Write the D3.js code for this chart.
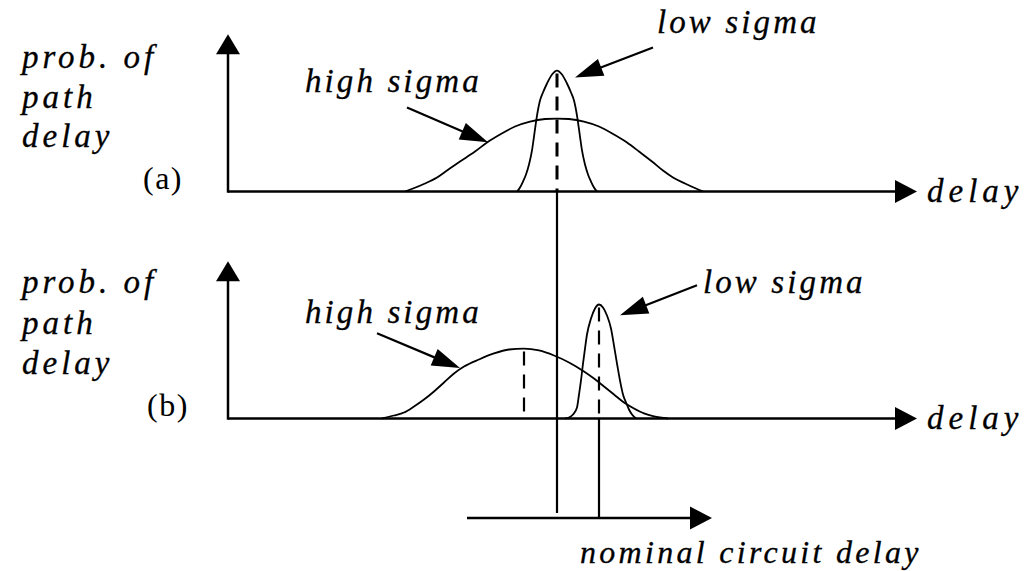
<!DOCTYPE html>
<html><head><meta charset="utf-8">
<script src="https://cdn.jsdelivr.net/npm/d3@7"></script>
<style>html,body{margin:0;padding:0;background:#fff;} svg{display:block;}</style>
</head><body>
<svg id="chart" width="1024" height="571"></svg>
<script>
// ---------- data (delay units, probability units) ----------
const topWide = [[17.7,0],[18.5,.025],[19.7,.067],[20.9,.117],[21.9,.175],[23.2,.25],[24.7,.333],[25.9,.408],[27.2,.475],[28.7,.542],[30.2,.583],[31.7,.604],[32.9,.608],
  [34.1,.604],[35.6,.583],[37.1,.542],[38.6,.475],[39.9,.408],[41.1,.333],[42.4,.25],[43.5,.175],[44.5,.117],[45.7,.067],[46.8,.025],[47.5,0]];
const topNarrow = [[28.9,0],[29.2,.033],[29.5,.083],[29.8,.142],[30.1,.225],[30.4,.342],[30.6,.458],[30.9,.633],[31.2,.758],[31.5,.825],[31.9,.9],[32.4,.975],[32.9,1.008],
  [33.4,.975],[33.9,.9],[34.3,.825],[34.6,.758],[34.9,.633],[35.2,.458],[35.4,.342],[35.7,.225],[36.0,.142],[36.3,.083],[36.6,.033],[36.9,0]];
const botWide = [[15.4,0],[16.6,.025],[17.6,.05],[18.6,.1],[19.6,.158],[20.6,.225],[21.6,.3],[22.6,.375],[23.6,.433],[25.1,.492],[26.6,.542],[28.1,.575],[29.6,.583],
  [31.1,.567],[32.6,.525],[34.1,.467],[35.6,.392],[36.6,.333],[37.6,.267],[38.6,.2],[39.6,.133],[40.6,.083],[41.6,.042],[42.6,.017],[44.0,0]];
const botNarrow = [[33.7,0],[34.1,.008],[34.5,.033],[34.9,.092],[35.1,.2],[35.3,.317],[35.5,.458],[35.7,.583],[35.9,.7],[36.3,.833],[36.7,.917],[37.1,.95],
  [37.5,.925],[37.9,.858],[38.3,.75],[38.6,.608],[38.9,.458],[39.2,.317],[39.5,.2],[39.8,.133],[40.1,.075],[40.4,.033],[40.8,0]];
// means marked with dashed lines: [delay, peak]
const topMeans = [[32.9, 1.008]];
const botMeans = [[29.6, .583], [37.1, .95]];
const panelLabels = ["(a)", "(b)"];
const yLabelLines = ["prob. of", "path", "delay"];
const xLabel = "delay";
const nominalLabel = "nominal circuit delay";
const sigmaLabels = ["high sigma", "low sigma"];
// annotation arrows [fromX, fromY, toX, toY] in data units
const topArrows = [[17.9,.70,26.0,.41],[42.5,1.20,34.7,.95]];
const botArrows = [[14.9,.71,23.2,.42],[46.9,1.11,39.2,.86]];
const topLabelPos = [[7.7,.83],[42.9,1.32]];
const botLabelPos = [[7.7,.80],[47.5,1.05]];
const nominalRange = [23.9, 48.4];
const nominalMarks = [32.9, 37.1];

// ---------- layout ----------
const svg = d3.select("#chart");
svg.append("rect").attr("width",1024).attr("height",571).attr("fill","#fff");
const x = d3.scaleLinear().domain([0, 68.9]).range([228, 917]);
const yTop = d3.scaleLinear().domain([0, 1.3]).range([191.5, 35.5]);
const yBot = d3.scaleLinear().domain([0, 1.3]).range([418.5, 262.5]);
const yMax = 1.31, xMax = 68.9;
const nomY = 518;
const font = "'Liberation Serif','Times New Roman',serif";
const ink = "#000";

function arrowHead(g, tx, ty, fx, fy, L, W) {
  const dx = tx - fx, dy = ty - fy, d = Math.hypot(dx, dy);
  const ux = dx/d, uy = dy/d, bx = tx - ux*L, by = ty - uy*L;
  g.append("path")
    .attr("d", `M${tx},${ty}L${bx - uy*W},${by + ux*W}L${bx + uy*W},${by - ux*W}Z`)
    .attr("fill", ink);
}

function panel(y, wide, narrow, means, arrows, labelPos, label, labelBaselines, labelLetterX, dashW) {
  const g = svg.append("g");
  // axes
  g.append("line").attr("x1", x(0)).attr("x2", x(xMax) - 18).attr("y1", y(0)).attr("y2", y(0))
    .attr("stroke", ink).attr("stroke-width", 2.5);
  arrowHead(g, x(xMax), y(0), x(0), y(0), 22, 11.5);
  g.append("line").attr("x1", x(0)).attr("x2", x(0)).attr("y1", y(0) + 1.2).attr("y2", y(yMax) + 16)
    .attr("stroke", ink).attr("stroke-width", 2.5);
  arrowHead(g, x(0), y(yMax), x(0), y(0), 20, 12);

  const line = d3.line().x(d => x(d[0])).y(d => y(d[1])).curve(d3.curveMonotoneX);
  [wide, narrow].forEach(c => g.append("path").attr("d", line(c)).attr("fill", "none")
    .attr("stroke", ink).attr("stroke-width", 1.8));
  means.forEach(m => g.append("line").attr("x1", x(m[0])).attr("x2", x(m[0]))
    .attr("y1", y(m[1]) + 3).attr("y2", y(0)).attr("stroke", ink)
    .attr("stroke-width", dashW).attr("stroke-dasharray", "14,9"));
  arrows.forEach(a => {
    const fx = x(a[0]), fy = y(a[1]), tx = x(a[2]), ty = y(a[3]);
    const dx = tx - fx, dy = ty - fy, d = Math.hypot(dx, dy);
    g.append("line").attr("x1", fx).attr("y1", fy).attr("x2", tx - dx/d*20).attr("y2", ty - dy/d*20)
      .attr("stroke", ink).attr("stroke-width", 2.2);
    arrowHead(g, tx, ty, fx, fy, 28, 9);
  });
  sigmaLabels.forEach((t, i) => g.append("text").attr("x", x(labelPos[i][0])).attr("y", y(labelPos[i][1]))
    .attr("font-family", font).attr("font-style", "italic").attr("font-size", 33)
    .attr("letter-spacing", 3.1).attr("fill", ink).attr("stroke", ink).attr("stroke-width", 0.3).text(t));
  // y-axis label
  yLabelLines.forEach((t, i) => g.append("text").attr("x", 22).attr("y", labelBaselines[i])
    .attr("font-family", font).attr("font-style", "italic").attr("font-size", 33)
    .attr("letter-spacing", 4).attr("fill", ink).attr("stroke", ink).attr("stroke-width", 0.3).text(t));
  g.append("text").attr("x", labelLetterX).attr("y", y(0) - 3)
    .attr("font-family", font).attr("font-size", 32).attr("letter-spacing", 1.5).attr("fill", ink).text(label);
  g.append("text").attr("x", x(xMax) + 10).attr("y", y(0) + 10)
    .attr("font-family", font).attr("font-style", "italic").attr("font-size", 33)
    .attr("letter-spacing", 5).attr("fill", ink).attr("stroke", ink).attr("stroke-width", 0.3).text(xLabel);
}

panel(yTop, topWide, topNarrow, topMeans, topArrows, topLabelPos, panelLabels[0], [68,108,147], 143, 3);
panel(yBot, botWide, botNarrow, botMeans, botArrows, botLabelPos, panelLabels[1], [293,334,374], 147, 2.2);

// projections onto the nominal-delay axis
svg.append("line").attr("x1", x(nominalMarks[0])).attr("x2", x(nominalMarks[0]))
  .attr("y1", yTop(0)).attr("y2", nomY - 5).attr("stroke", ink).attr("stroke-width", 2.2);
svg.append("line").attr("x1", x(nominalMarks[1])).attr("x2", x(nominalMarks[1]))
  .attr("y1", yBot(0)).attr("y2", nomY).attr("stroke", ink).attr("stroke-width", 2.2);
svg.append("line").attr("x1", x(nominalRange[0])).attr("x2", x(nominalRange[1]) - 18)
  .attr("y1", nomY).attr("y2", nomY).attr("stroke", ink).attr("stroke-width", 2.5);
arrowHead(svg, x(nominalRange[1]), nomY, x(nominalRange[0]), nomY, 22, 11.5);
svg.append("text").attr("x", 580).attr("y", 563)
  .attr("font-family", font).attr("font-style", "italic").attr("font-size", 32)
  .attr("letter-spacing", 3.3).attr("fill", ink).attr("stroke", ink).attr("stroke-width", 0.3).text(nominalLabel);
</script>
</body></html>
